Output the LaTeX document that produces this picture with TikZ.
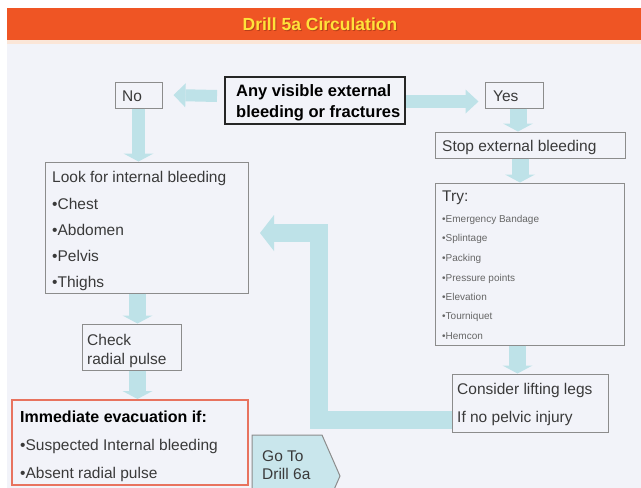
\documentclass[tikz,border=0pt]{standalone}
\usepackage{fontspec}
\setmainfont{Liberation Sans}
\usetikzlibrary{arrows.meta,calc}
\definecolor{barorange}{HTML}{EF5524}
\definecolor{titleyellow}{HTML}{FFE23A}
\definecolor{titleshadow}{HTML}{B8401A}
\definecolor{panelbg}{HTML}{F2F3F9}
\definecolor{stripc}{HTML}{FBE6D8}
\definecolor{arrowblue}{HTML}{BEE2E8}
\definecolor{boxgray}{HTML}{8C8C8C}
\definecolor{txtgray}{HTML}{3A3A3A}
\definecolor{smallgray}{HTML}{666666}
\definecolor{evacred}{HTML}{E8735F}
\definecolor{gofill}{HTML}{C9E6EC}
\begin{document}
\begin{tikzpicture}[x=1pt,y=-1pt,
  box/.style={draw=boxgray, line width=1pt, inner sep=0pt},
  mainbox/.style={draw=black!85, line width=2pt, inner sep=0pt},
  evacbox/.style={draw=evacred, line width=2pt, inner sep=0pt},
  txt/.style={anchor=base west, inner sep=0pt, text=txtgray, font=\fontsize{15.5}{18}\selectfont},
  boldtxt/.style={anchor=base west, inner sep=0pt, text=black, font=\fontsize{16}{19}\selectfont\bfseries},
  smalltxt/.style={anchor=base west, inner sep=0pt, text=smallgray, font=\fontsize{10}{12}\selectfont},
  downarrow/.style={draw=arrowblue, line width=17pt, -{Triangle[width=30pt,length=8pt,line width=0pt]}},
  leftarrow/.style={draw=arrowblue, line width=12pt, -{Triangle[width=24pt,length=12pt,line width=0pt]}},
  rightarrow/.style={draw=arrowblue, line width=13pt, -{Triangle[width=24pt,length=13pt,line width=0pt]}},
  bigarrow/.style={draw=arrowblue, line width=18pt, line join=miter, -{Triangle[width=36pt,length=14pt,line width=0pt]}}
]
\useasboundingbox (0,0) rectangle (641,488);
\clip (0,0) rectangle (641,488);
\fill[white] (0,0) rectangle (641,488);
% background panel and title bar
\fill[panelbg] (7,43) rectangle (641,488);
\fill[stripc] (7,39) rectangle (641,44);
\fill[barorange] (7,8) rectangle (641,40);
\node[inner sep=0pt, text=titleshadow, font=\fontsize{17.5}{20}\selectfont\bfseries] (titleshd) at (321,24.8) {Drill 5a Circulation};
\node[inner sep=0pt, text=titleyellow, font=\fontsize{17.5}{20}\selectfont\bfseries] (title) at (320,24) {Drill 5a Circulation};

% boxes
\node[mainbox, minimum width=180pt, minimum height=47pt] (main) at (315,100.5) {};
\node[box, minimum width=47pt, minimum height=26pt] (no) at (138.5,95) {};
\node[box, minimum width=58pt, minimum height=26pt] (yes) at (514,95) {};
\node[box, minimum width=190pt, minimum height=26pt] (stop) at (530,145) {};
\node[box, minimum width=189pt, minimum height=162pt] (try) at (529.5,264) {};
\node[box, minimum width=156pt, minimum height=58pt] (cons) at (530,403) {};
\node[box, minimum width=203pt, minimum height=131pt] (look) at (146.5,227.5) {};
\node[box, minimum width=99pt, minimum height=46pt] (check) at (131.5,347) {};
\node[evacbox, minimum width=236pt, minimum height=85pt] (evac) at (130,442.5) {};
\path[draw=boxgray, line width=1pt, fill=gofill] (252,435) -- (322,435) -- (340,476) -- (322,517) -- (252,517) -- cycle;

% texts
\node[boldtxt, font=\fontsize{16.5}{19}\selectfont\bfseries] (main1) at (236,96) {Any visible external};
\node[boldtxt, font=\fontsize{16.5}{19}\selectfont\bfseries] (main2) at (236,117) {bleeding or fractures};
\node[txt] (notext) at (122,101) {No};
\node[txt] (yestext) at (493,101) {Yes};
\node[txt] (stoptext) at (442,151) {Stop external bleeding};
\node[txt] (trytext) at (442,201) {Try:};
\node[smalltxt] (try1) at (442,222) {•Emergency Bandage};
\node[smalltxt] (try2) at (442,241.5) {•Splintage};
\node[smalltxt] (try3) at (442,261) {•Packing};
\node[smalltxt] (try4) at (442,281) {•Pressure points};
\node[smalltxt] (try5) at (442,300.5) {•Elevation};
\node[smalltxt] (try6) at (442,319.5) {•Tourniquet};
\node[smalltxt] (try7) at (442,339) {•Hemcon};
\node[txt] (cons1) at (457,394) {Consider lifting legs};
\node[txt] (cons2) at (457,422) {If no pelvic injury};
\node[txt] (look1) at (52,182) {Look for internal bleeding};
\node[txt] (look2) at (52,209) {•Chest};
\node[txt] (look3) at (52,235) {•Abdomen};
\node[txt] (look4) at (52,261.5) {•Pelvis};
\node[txt] (look5) at (52,287) {•Thighs};
\node[txt] (check1) at (87,345) {Check};
\node[txt] (check2) at (87,364) {radial pulse};
\node[boldtxt] (evac1) at (20,422) {Immediate evacuation if:};
\node[txt] (evac2) at (20,450) {•Suspected Internal bleeding};
\node[txt] (evac3) at (20,478) {•Absent radial pulse};
\node[txt] (go1) at (262,461) {Go To};
\node[txt] (go2) at (262,479) {Drill 6a};

% block arrows
\draw[leftarrow] ([xshift=-7pt,yshift=4.5pt]main.west) -- ([xshift=11pt]no.east);
\draw[rightarrow] ([yshift=-1pt]main.east) -- ([xshift=-6pt,yshift=-6.5pt]yes.west);
\draw[downarrow] ([xshift=4pt]yes.south) -- ([xshift=4pt]yes.south |- stop.north);
\draw[downarrow] ([xshift=-10pt]stop.south) -- ([xshift=-10pt]stop.south |- try.north);
\draw[downarrow] ([xshift=-12pt]try.south) -- ([xshift=-12pt]try.south |- cons.north);
\draw[downarrow, line width=13pt] (no.south) -- (no.south |- look.north);
\draw[downarrow] ([xshift=-9pt]look.south) -- ([xshift=-9pt]look.south |- check.north);
\draw[downarrow] ([xshift=6pt]check.south) -- ([xshift=6pt]check.south |- evac.north);
\coordinate (lcorner) at (319,420);
\coordinate (ltip) at (260,233);
\draw[bigarrow] (cons.west |- lcorner) -- (lcorner) -- (lcorner |- ltip) -- (ltip);
\end{tikzpicture}
\end{document}
